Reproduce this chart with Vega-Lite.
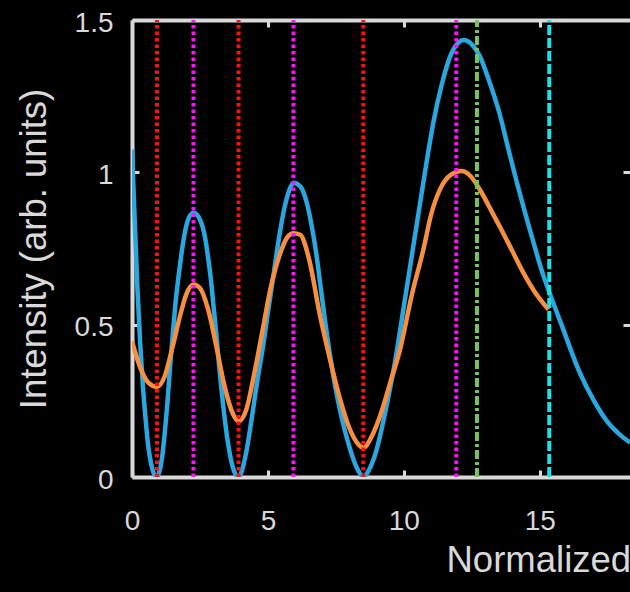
{
  "$schema": "https://vega.github.io/schema/vega-lite/v6.json",
  "width": 498,
  "height": 457,
  "autosize": {"type": "none"},
  "padding": {"left": 132, "top": 20, "right": 0, "bottom": 115},
  "background": "#000000",
  "config": {
    "view": {"stroke": null},
    "font": "Liberation Sans",
    "axis": {
      "grid": false,
      "domainColor": "#d9d9d9",
      "domainWidth": 4,
      "tickColor": "#d9d9d9",
      "tickWidth": 3,
      "labelColor": "#d9d9d9",
      "titleColor": "#d9d9d9",
      "labelFont": "Liberation Sans",
      "titleFont": "Liberation Sans",
      "labelFontSize": 28,
      "labelFlush": false,
      "titleFontSize": 36.5,
      "titleFontWeight": "normal"
    }
  },
  "datasets": {
    "blue": [
      {"x": 0, "y": 1.075}, {"x": 0.1, "y": 0.84}, {"x": 0.2, "y": 0.62}, {"x": 0.3, "y": 0.44}, {"x": 0.4, "y": 0.3}, {"x": 0.5, "y": 0.19}, {"x": 0.6, "y": 0.1}, {"x": 0.7, "y": 0.045}, {"x": 0.8, "y": 0.012}, {"x": 0.92, "y": 0},
      {"x": 1.0, "y": 0.015}, {"x": 1.1, "y": 0.06}, {"x": 1.2, "y": 0.14}, {"x": 1.3, "y": 0.24}, {"x": 1.4, "y": 0.36}, {"x": 1.5, "y": 0.47}, {"x": 1.6, "y": 0.57}, {"x": 1.7, "y": 0.65}, {"x": 1.8, "y": 0.72}, {"x": 1.9, "y": 0.78}, {"x": 2.0, "y": 0.825}, {"x": 2.1, "y": 0.853}, {"x": 2.2, "y": 0.865}, {"x": 2.26, "y": 0.867},
      {"x": 2.4, "y": 0.86}, {"x": 2.5, "y": 0.845}, {"x": 2.6, "y": 0.82}, {"x": 2.7, "y": 0.78}, {"x": 2.8, "y": 0.72}, {"x": 2.9, "y": 0.65}, {"x": 3.0, "y": 0.56}, {"x": 3.1, "y": 0.47}, {"x": 3.2, "y": 0.37}, {"x": 3.3, "y": 0.28}, {"x": 3.4, "y": 0.2}, {"x": 3.5, "y": 0.13}, {"x": 3.6, "y": 0.075}, {"x": 3.7, "y": 0.035}, {"x": 3.8, "y": 0.01}, {"x": 3.92, "y": 0},
      {"x": 4.0, "y": 0.01}, {"x": 4.2, "y": 0.08}, {"x": 4.4, "y": 0.19}, {"x": 4.6, "y": 0.31}, {"x": 4.84, "y": 0.44}, {"x": 5.0, "y": 0.54}, {"x": 5.2, "y": 0.66}, {"x": 5.4, "y": 0.78}, {"x": 5.6, "y": 0.88}, {"x": 5.8, "y": 0.945}, {"x": 5.94, "y": 0.966}, {"x": 6.19, "y": 0.954}, {"x": 6.4, "y": 0.91}, {"x": 6.6, "y": 0.83}, {"x": 6.8, "y": 0.72}, {"x": 6.92, "y": 0.637}, {"x": 7.2, "y": 0.45}, {"x": 7.45, "y": 0.31}, {"x": 7.7, "y": 0.2}, {"x": 7.96, "y": 0.11}, {"x": 8.2, "y": 0.045}, {"x": 8.4, "y": 0.01}, {"x": 8.51, "y": 0},
      {"x": 8.7, "y": 0.02}, {"x": 9.0, "y": 0.09}, {"x": 9.31, "y": 0.21}, {"x": 9.68, "y": 0.38}, {"x": 10.0, "y": 0.56}, {"x": 10.3, "y": 0.73}, {"x": 10.6, "y": 0.9}, {"x": 10.84, "y": 1.035}, {"x": 11.1, "y": 1.17}, {"x": 11.4, "y": 1.29}, {"x": 11.7, "y": 1.38}, {"x": 12.0, "y": 1.425}, {"x": 12.2, "y": 1.434}, {"x": 12.5, "y": 1.42}, {"x": 12.8, "y": 1.38}, {"x": 13.1, "y": 1.31}, {"x": 13.5, "y": 1.2}, {"x": 13.85, "y": 1.075}, {"x": 14.15, "y": 0.97}, {"x": 14.45, "y": 0.87}, {"x": 14.8, "y": 0.76}, {"x": 15.1, "y": 0.67}, {"x": 15.38, "y": 0.6}, {"x": 15.8, "y": 0.5}, {"x": 16.47, "y": 0.343}, {"x": 16.97, "y": 0.254}, {"x": 17.5, "y": 0.18}, {"x": 18.0, "y": 0.135}, {"x": 18.32, "y": 0.113}
    ],
    "orange": [
      {"x": 0, "y": 0.445}, {"x": 0.3, "y": 0.36}, {"x": 0.6, "y": 0.31}, {"x": 0.92, "y": 0.296}, {"x": 1.2, "y": 0.33}, {"x": 1.5, "y": 0.43}, {"x": 1.8, "y": 0.54}, {"x": 2.0, "y": 0.6}, {"x": 2.26, "y": 0.632}, {"x": 2.5, "y": 0.62}, {"x": 2.8, "y": 0.55}, {"x": 3.1, "y": 0.43}, {"x": 3.4, "y": 0.3}, {"x": 3.7, "y": 0.21}, {"x": 3.92, "y": 0.183},
      {"x": 4.2, "y": 0.22}, {"x": 4.5, "y": 0.34}, {"x": 4.8, "y": 0.48}, {"x": 5.1, "y": 0.62}, {"x": 5.4, "y": 0.72}, {"x": 5.7, "y": 0.785}, {"x": 5.94, "y": 0.8}, {"x": 6.19, "y": 0.795}, {"x": 6.5, "y": 0.72}, {"x": 6.92, "y": 0.528}, {"x": 7.3, "y": 0.38}, {"x": 7.66, "y": 0.254}, {"x": 8.0, "y": 0.16}, {"x": 8.3, "y": 0.11}, {"x": 8.51, "y": 0.096},
      {"x": 8.8, "y": 0.13}, {"x": 9.2, "y": 0.22}, {"x": 9.5, "y": 0.31}, {"x": 9.86, "y": 0.418}, {"x": 10.3, "y": 0.6}, {"x": 10.72, "y": 0.747}, {"x": 11.0, "y": 0.86}, {"x": 11.33, "y": 0.944}, {"x": 11.7, "y": 0.99}, {"x": 12.13, "y": 1.004}, {"x": 12.45, "y": 0.988}, {"x": 12.8, "y": 0.943}, {"x": 13.2, "y": 0.877}, {"x": 13.6, "y": 0.81}, {"x": 14.0, "y": 0.74}, {"x": 14.4, "y": 0.67}, {"x": 14.8, "y": 0.61}, {"x": 15.32, "y": 0.55}
    ],
    "vlines": [
      {"x": 0.92, "line": "minimum"},
      {"x": 3.92, "line": "minimum"},
      {"x": 8.51, "line": "minimum"},
      {"x": 2.26, "line": "maximum"},
      {"x": 5.94, "line": "maximum"},
      {"x": 11.93, "line": "maximum"},
      {"x": 12.69, "line": "marker A"},
      {"x": 15.35, "line": "marker B"}
    ]
  },
  "resolve": {"axis": {"x": "independent", "y": "independent"}},
  "layer": [
    {
      "data": {"name": "blue"},
      "mark": {"type": "line", "color": "#2aa7df", "strokeWidth": 4.5, "interpolate": "monotone", "clip": true},
      "encoding": {
        "x": {"field": "x", "type": "quantitative",
          "scale": {"domain": [0, 18.32], "nice": false, "zero": false},
          "axis": {"orient": "bottom", "values": [0, 5, 10, 15], "tickSize": -7, "labelPadding": 37,
            "title": "Normalized", "titleAnchor": "start", "titleAlign": "left", "titleX": 314, "titleY": 94, "titleBaseline": "alphabetic"}},
        "y": {"field": "y", "type": "quantitative",
          "scale": {"domain": [0, 1.5], "nice": false},
          "axis": {"orient": "left", "values": [0, 0.5, 1, 1.5], "format": "~g", "tickSize": -7, "labelPadding": 26, "labelOffset": 3,
            "title": "Intensity (arb. units)", "titleX": -87, "titleY": 228.5, "titleAlign": "center", "titleBaseline": "alphabetic"}}
      }
    },
    {
      "data": {"name": "orange"},
      "mark": {"type": "line", "color": "#f68f3f", "strokeWidth": 4.5, "interpolate": "monotone", "clip": true},
      "encoding": {
        "x": {"field": "x", "type": "quantitative", "axis": null},
        "y": {"field": "y", "type": "quantitative", "axis": null}
      }
    },
    {
      "data": {"name": "vlines"},
      "mark": {"type": "rule", "strokeWidth": 4},
      "encoding": {
        "x": {"field": "x", "type": "quantitative",
          "axis": {"orient": "top", "values": [0, 5, 10, 15], "tickSize": -7, "labels": false, "title": null}},
        "y": {"datum": 0, "type": "quantitative",
          "axis": {"orient": "right", "values": [0, 0.5, 1, 1.5], "tickSize": -7, "labels": false, "domain": false, "title": null}},
        "y2": {"datum": 1.5},
        "color": {"field": "line", "type": "nominal", "legend": null,
          "scale": {"domain": ["minimum", "maximum", "marker A", "marker B"], "range": ["#ff1010", "#ff10ff", "#78c35a", "#1ae3e6"]}},
        "strokeDash": {"field": "line", "type": "nominal", "legend": null,
          "scale": {"domain": ["minimum", "maximum", "marker A", "marker B"], "range": [[3.5, 3], [3.5, 3], [9, 3, 3, 3], [10, 3]]}}
      }
    }
  ]
}
